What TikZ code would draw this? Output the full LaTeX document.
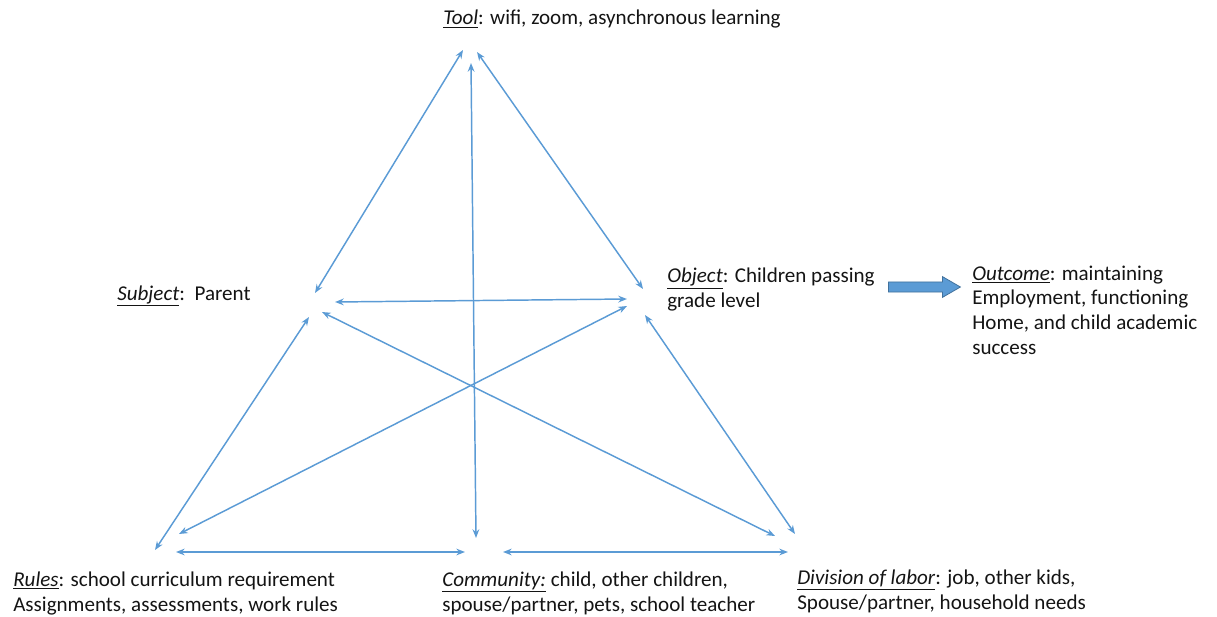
\documentclass[tikz,border=0pt]{standalone}
\usepackage{fontspec}
\setmainfont{Carlito}
\usetikzlibrary{arrows.meta,shapes.arrows}
\definecolor{linkblue}{RGB}{91,155,213}
\definecolor{edgeblue}{RGB}{65,113,156}
\definecolor{inkgray}{RGB}{20,20,20}
\newcommand{\lbl}[1]{\underline{\textit{#1}}}
\begin{document}
\begin{tikzpicture}[x=0.75pt,y=-0.75pt,
  label/.style={anchor=base west,align=left,inner sep=0pt,text=inkgray,
    font=\fontsize{15.8}{18.4}\selectfont},
  link/.style={draw=linkblue,line width=1.1pt,
    {Stealth[length=6.5pt,width=5pt]}-{Stealth[length=6.5pt,width=5pt]}}]
\useasboundingbox (0,0) rectangle (1217,617);

% text labels (anchored at the baseline of their last line)
\node[label] (tool) at (443,25) {\lbl{Tool}: wifi, zoom, asynchronous learning};
\node[label] (subject) at (117,300) {\lbl{Subject}:\ \ Parent};
\node[label] (object) at (667,307) {\lbl{Object}: Children passing\\grade level};
\node[label] (outcome) at (972,354) {\lbl{Outcome}: maintaining\\Employment, functioning\\Home, and child academic\\success};
\node[label] (rules) at (13,611) {\lbl{Rules}: school curriculum requirement\\Assignments, assessments, work rules};
\node[label] (community) at (442,611) {\underline{\textit{Community:}} child, other children,\\spouse/partner, pets, school teacher};
\node[label] (division) at (797,609) {\lbl{Division of labor}: job, other kids,\\Spouse/partner, household needs};

% end points of the connectors around each corner
\coordinate (toolL) at (463,50);
\coordinate (toolC) at (471,63);
\coordinate (toolR) at (477,52);
\coordinate (subjT) at (315,293);
\coordinate (subjH) at (335,302);
\coordinate (subjD) at (322,312);
\coordinate (subjB) at (309,317);
\coordinate (objT) at (643,289);
\coordinate (objH) at (627,299);
\coordinate (objD) at (627,306);
\coordinate (objB) at (645,315);
\coordinate (rulT) at (155,550);
\coordinate (rulD) at (179,534);
\coordinate (rulH) at (176,552);
\coordinate (comL) at (465,552);
\coordinate (comT) at (476,538);
\coordinate (comR) at (503,552);
\coordinate (divL) at (788,552);
\coordinate (divD) at (775,536);
\coordinate (divT) at (795,534);

% triangle sides and cross links
\draw[link] (toolL) -- (subjT);
\draw[link] (toolR) -- (objT);
\draw[link] (toolC) -- (comT);
\draw[link] (subjH) -- (objH);
\draw[link] (subjB) -- (rulT);
\draw[link] (rulD) -- (objD);
\draw[link] (subjD) -- (divD);
\draw[link] (objB) -- (divT);
\draw[link] (rulH) -- (comL);
\draw[link] (comR) -- (divL);

% block arrow towards the outcome
\node[single arrow,draw=edgeblue,fill=linkblue,line width=0.6pt,
  minimum height=54pt,inner xsep=0pt,inner ysep=3.5pt,
  single arrow head extend=4pt,single arrow tip angle=60,
  anchor=west] (outarrow) at (888,287) {};
\end{tikzpicture}
\end{document}
